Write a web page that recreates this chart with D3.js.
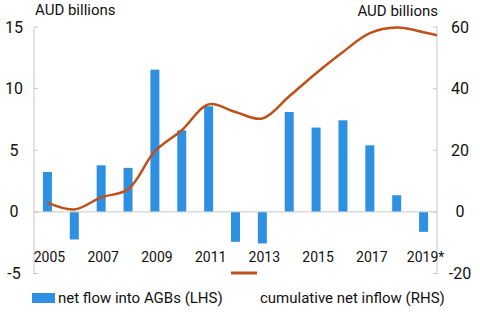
<!DOCTYPE html><html><head><meta charset="UTF-8"><script src="https://d3js.org/d3.v7.min.js"></script><style>
body { margin: 0; background: #fff; }
text { font-family: "Liberation Sans Narrow", "Roboto", sans-serif; fill: #111; }
</style></head><body><div id="chart"></div><script>
const years = [2005, 2006, 2007, 2008, 2009, 2010, 2011, 2012, 2013, 2014, 2015, 2016, 2017, 2018, 2019];
const yearLabels = ["2005", "", "2007", "", "2009", "", "2011", "", "2013", "", "2015", "", "2017", "", "2019*"];
const netFlow = [3.24, -2.24, 3.78, 3.57, 11.54, 6.62, 8.57, -2.43, -2.56, 8.1, 6.84, 7.43, 5.4, 1.35, -1.62];
const lineYears = [2005, 2006, 2007, 2008, 2009, 2010, 2011, 2012, 2013, 2014, 2015, 2016, 2017, 2018, 2019, 2019.5];
const cumulative = [3.0, 0.8, 4.7, 7.3, 19.7, 26.5, 34.9, 32.4, 30.3, 37.5, 45, 51.9, 58, 59.8, 58.3, 57.3];
const leftTicks = [-5, 0, 5, 10, 15];
const rightTicks = [-20, 0, 20, 40, 60];

const W = 480, H = 313;
const plotL = 34, plotR = 437, plotT = 27, plotB = 273.5;
const blue = "#2e90e2", orange = "#c0501a", axisCol = "#c8c8c8";

const svg = d3.select('#chart').append('svg').attr('width', W).attr('height', H);

const x = d3.scaleLinear().domain([2004.5, 2019.5]).range([plotL, plotR]);
const yL = d3.scaleLinear().domain([-5, 15]).range([plotB, plotT]);
const yR = d3.scaleLinear().domain([-20, 60]).range([plotB, plotT]);
const barW = 9;

// axes
svg.append('line').attr('x1', plotL).attr('x2', plotL).attr('y1', plotT).attr('y2', plotB + 1).attr('stroke', axisCol);
svg.append('line').attr('x1', plotR).attr('x2', plotR).attr('y1', plotT).attr('y2', plotB + 1).attr('stroke', axisCol);
svg.selectAll('.ltick').data(leftTicks).enter().append('line')
  .attr('x1', plotL).attr('x2', plotL + 4).attr('y1', d => yL(d)).attr('y2', d => yL(d)).attr('stroke', axisCol);
svg.selectAll('.rtick').data(rightTicks).enter().append('line')
  .attr('x1', plotR - 4).attr('x2', plotR).attr('y1', d => yR(d)).attr('y2', d => yR(d)).attr('stroke', axisCol);
svg.selectAll('.llab').data(leftTicks).enter().append('text')
  .attr('x', 14).attr('y', d => yL(d) + 5.5).attr('text-anchor', 'middle')
  .style('font-size', '16px').text(d => d);
svg.selectAll('.rlab').data(rightTicks).enter().append('text')
  .attr('x', 460).attr('y', d => yR(d) + 5.5).attr('text-anchor', 'middle')
  .style('font-size', '16px').text(d => d);

svg.append('text').attr('x', 35).attr('y', 15).style('font-size', '15px').text('AUD billions');
svg.append('text').attr('x', 438).attr('y', 16).attr('text-anchor', 'end').style('font-size', '15px').text('AUD billions');

// bars
svg.selectAll('.bar').data(years).enter().append('rect')
  .attr('x', (d) => x(d) - barW / 2)
  .attr('width', barW)
  .attr('y', (d, i) => yL(Math.max(0, netFlow[i])))
  .attr('height', (d, i) => Math.abs(yL(netFlow[i]) - yL(0)))
  .attr('fill', blue);

// zero line
svg.append('line').attr('x1', plotL).attr('x2', plotR).attr('y1', yL(0)).attr('y2', yL(0)).attr('stroke', axisCol);

// year labels
svg.selectAll('.xlab').data(years).enter().append('text')
  .attr('x', d => x(d) + 2).attr('y', 262).attr('text-anchor', 'middle')
  .style('font-size', '14px').text((d, i) => yearLabels[i]);

// line
const line = d3.line().x((d, i) => x(lineYears[i])).y(d => yR(d)).curve(d3.curveCatmullRom.alpha(0.5));
svg.append('path').datum(cumulative).attr('d', line)
  .attr('fill', 'none').attr('stroke', orange).attr('stroke-width', 2.5);

// legend
svg.append('rect').attr('x', 32).attr('y', 293).attr('width', 23).attr('height', 10).attr('fill', blue);
svg.append('text').attr('x', 58).attr('y', 303).style('font-size', '15px').text('net flow into AGBs (LHS)');
svg.append('line').attr('x1', 231).attr('x2', 257).attr('y1', 273).attr('y2', 273)
  .attr('stroke', orange).attr('stroke-width', 3);
svg.append('text').attr('x', 260).attr('y', 303).style('font-size', '15px').text('cumulative net inflow (RHS)');
</script></body></html>
